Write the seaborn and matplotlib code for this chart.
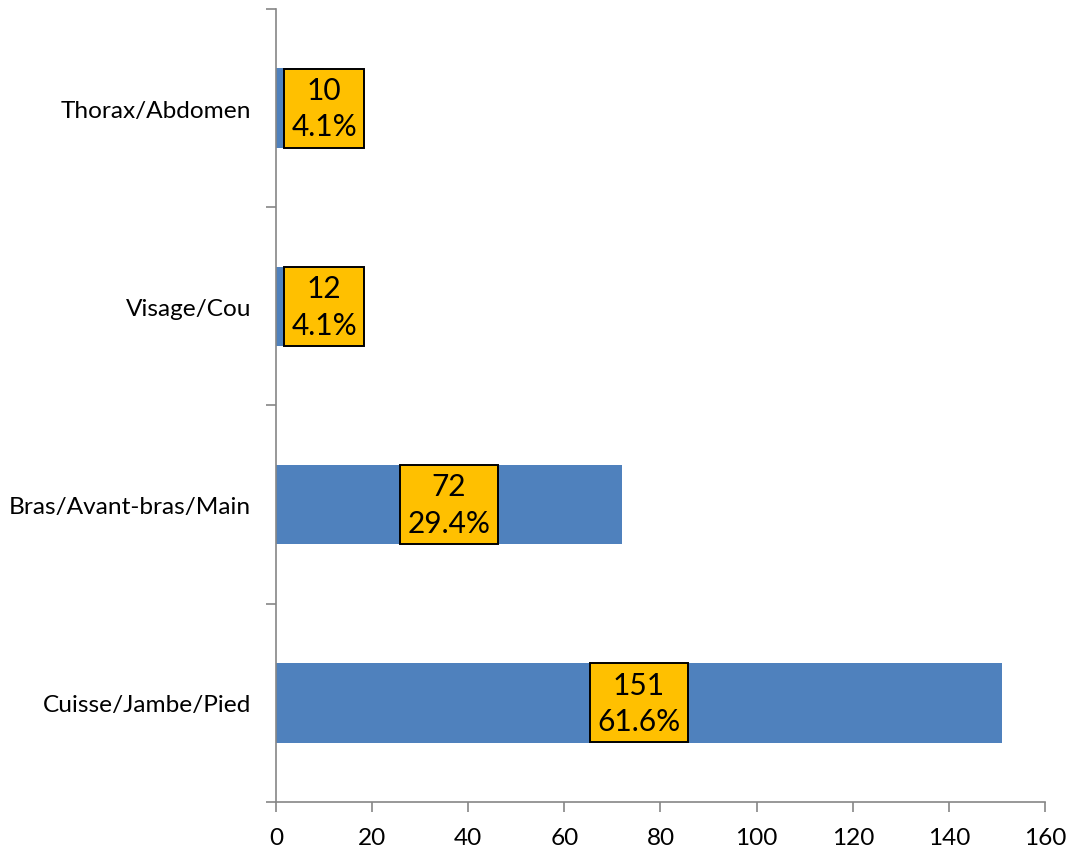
import matplotlib
matplotlib.use("Agg")
import matplotlib.pyplot as plt
import seaborn as sns
import pandas as pd
from matplotlib.ticker import FixedLocator

categories = ["Thorax/Abdomen", "Visage/Cou", "Bras/Avant-bras/Main", "Cuisse/Jambe/Pied"]
counts = [10, 12, 72, 151]
percents = ["4.1%", "4.1%", "29.4%", "61.6%"]
x_ticks = [0, 20, 40, 60, 80, 100, 120, 140, 160]

sns.set_theme(style="white")
plt.rcParams["font.family"] = ["Lato", "DejaVu Sans"]
plt.rcParams["text.color"] = "black"

df = pd.DataFrame({"zone": categories, "n": counts})

fig = plt.figure(figsize=(10.73, 8.53), dpi=100)
ax = fig.add_axes([0.2572, 0.0586, 0.9739 - 0.2572, 0.9883 - 0.0586])

sns.barplot(data=df, x="n", y="zone", orient="h", color="#4F81BD",
            width=0.4, saturation=1, linewidth=0, ax=ax)

ax.set_xlim(0, 160)
ax.set_ylim(len(categories) - 0.5, -0.5)
ax.set_xticks(x_ticks)
ax.set_xlabel("")
ax.set_ylabel("")

grey = "#868686"
for side in ("top", "right"):
    ax.spines[side].set_visible(False)
for side in ("left", "bottom"):
    ax.spines[side].set_color(grey)
    ax.spines[side].set_linewidth(1.2)

ax.yaxis.set_minor_locator(FixedLocator([i - 0.5 for i in range(len(categories) + 1)]))
ax.tick_params(axis="y", which="major", length=0, pad=18, labelsize=17.6, labelcolor="black")
ax.tick_params(axis="y", which="minor", left=True, length=7, width=1.2, color=grey)
ax.tick_params(axis="x", which="major", bottom=True, length=7, width=1.2, color=grey,
               pad=11, labelsize=17.6, labelcolor="black")

# value + share labels in boxes
for i, (v, p) in enumerate(zip(counts, percents)):
    label = f"{v}\n{p}"
    box = dict(boxstyle="square,pad=0.24", facecolor="#FFC000", edgecolor="black", linewidth=1.4)
    style = dict(va="center", fontsize=21.5, linespacing=1.38, bbox=box,
                 multialignment="center", color="black")
    if v * 4.8 / 2 < 45:
        ax.annotate(label, xy=(0, i), xytext=(11, 0), textcoords="offset points",
                    ha="left", **style)
    else:
        ax.annotate(label, xy=(v / 2, i), ha="center", **style)

fig.savefig("out.png", dpi=100)
